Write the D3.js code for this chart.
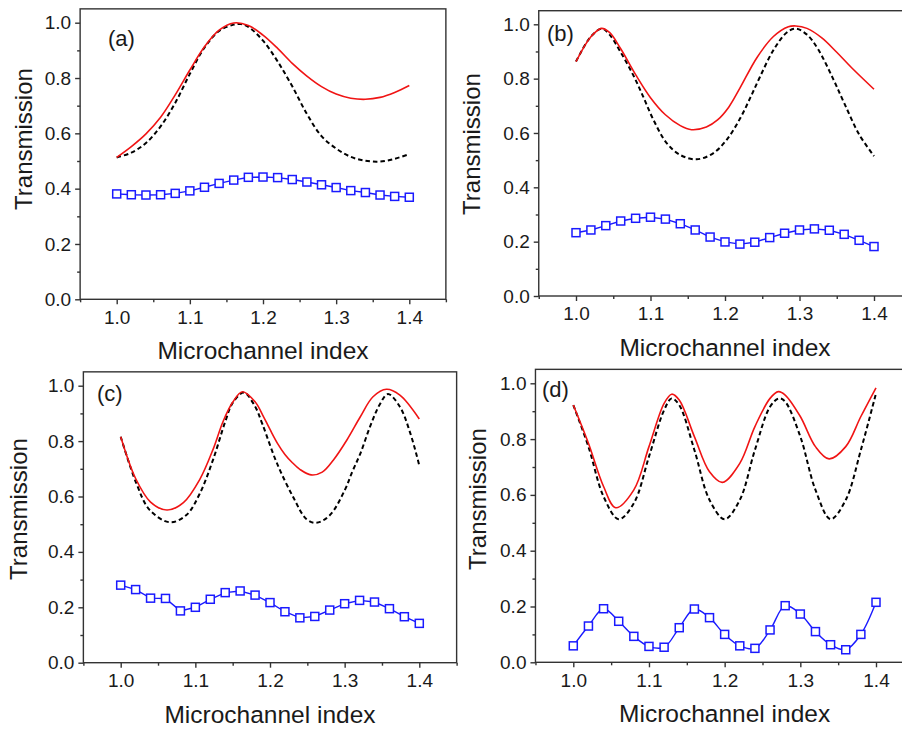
<!DOCTYPE html>
<html>
<head>
<meta charset="utf-8">
<script src="https://cdn.jsdelivr.net/npm/d3@7"></script>
<style>
  html, body { margin: 0; padding: 0; background: #fff; }
  svg { display: block; }
  text { font-family: "Liberation Sans", Arial, sans-serif; fill: #1a1a1a; }
</style>
</head>
<body>
<svg id="chart" width="902" height="729"></svg>
<script>
// ---------------- data ----------------
const panelNames = ["(a)", "(b)", "(c)", "(d)"];
const xTickValues = [1.0, 1.1, 1.2, 1.3, 1.4];
const xMinorValues = [0.95, 1.05, 1.15, 1.25, 1.35, 1.45];
const yTickValues = [0.0, 0.2, 0.4, 0.6, 0.8, 1.0];
const yMinorValues = [0.1, 0.3, 0.5, 0.7, 0.9];
const xTitle = "Microchannel index";
const yTitle = "Transmission";

const markerX = [1.00, 1.02, 1.04, 1.06, 1.08, 1.10, 1.12, 1.14, 1.16, 1.18, 1.20,
                 1.22, 1.24, 1.26, 1.28, 1.30, 1.32, 1.34, 1.36, 1.38, 1.40];

// panel (a)
const blueA = [0.381, 0.378, 0.377, 0.378, 0.383, 0.392, 0.405, 0.419, 0.431, 0.441, 0.442,
               0.440, 0.433, 0.424, 0.414, 0.404, 0.393, 0.386, 0.377, 0.372, 0.369];
const redA = [[1.00,0.513],[1.02,0.552],[1.04,0.598],[1.06,0.658],[1.08,0.739],[1.10,0.829],
              [1.12,0.913],[1.14,0.973],[1.16,0.999],[1.18,0.99],[1.20,0.955],[1.22,0.907],
              [1.24,0.853],[1.26,0.807],[1.28,0.769],[1.30,0.742],[1.32,0.727],[1.34,0.723],
              [1.36,0.730],[1.38,0.748],[1.40,0.773]];
const blackA = [[1.00,0.513],[1.02,0.530],[1.04,0.565],[1.06,0.625],[1.08,0.710],[1.10,0.815],
                [1.12,0.910],[1.14,0.970],[1.16,0.993],[1.17,0.995],[1.18,0.985],[1.20,0.935],
                [1.22,0.860],[1.24,0.770],[1.26,0.670],[1.28,0.590],[1.30,0.545],[1.32,0.515],
                [1.34,0.501],[1.36,0.498],[1.38,0.508],[1.40,0.525]];

// panel (b)
const blueB = [0.233, 0.243, 0.259, 0.276, 0.286, 0.290, 0.283, 0.266, 0.243, 0.217, 0.199,
               0.191, 0.198, 0.215, 0.231, 0.243, 0.247, 0.242, 0.227, 0.205, 0.182];
const redB = [[1.00,0.863],[1.02,0.954],[1.034,0.985],[1.045,0.970],[1.06,0.910],[1.08,0.815],
              [1.10,0.730],[1.12,0.667],[1.14,0.627],[1.155,0.612],[1.175,0.622],[1.19,0.648],
              [1.205,0.695],[1.22,0.765],[1.243,0.878],[1.265,0.955],[1.285,0.991],[1.295,0.994],
              [1.31,0.985],[1.33,0.950],[1.35,0.897],[1.37,0.840],[1.40,0.761]];
const blackB = [[1.00,0.863],[1.02,0.955],[1.035,0.984],[1.045,0.962],[1.059,0.902],[1.077,0.812],
                [1.090,0.735],[1.104,0.648],[1.122,0.562],[1.140,0.519],[1.162,0.503],[1.184,0.525],
                [1.202,0.574],[1.220,0.652],[1.234,0.730],[1.247,0.807],[1.265,0.905],[1.283,0.970],
                [1.295,0.984],[1.31,0.962],[1.325,0.908],[1.345,0.800],[1.36,0.710],[1.38,0.595],
                [1.40,0.515]];

// panel (c)
const blueC = [0.280, 0.264, 0.233, 0.232, 0.187, 0.200, 0.229, 0.253, 0.259, 0.244, 0.217,
               0.184, 0.162, 0.167, 0.190, 0.213, 0.225, 0.219, 0.195, 0.166, 0.142];
const redC = [[1.00,0.816],[1.02,0.665],[1.04,0.580],[1.062,0.551],[1.084,0.578],[1.106,0.662],
              [1.124,0.772],[1.137,0.870],[1.15,0.940],[1.163,0.978],[1.18,0.942],[1.19,0.895],
              [1.20,0.842],[1.21,0.792],[1.22,0.752],[1.23,0.722],[1.24,0.698],[1.255,0.678],
              [1.27,0.688],[1.285,0.732],[1.303,0.804],[1.321,0.888],[1.338,0.960],[1.356,0.987],
              [1.374,0.966],[1.40,0.880]];
const blackC = [[1.00,0.816],[1.021,0.647],[1.039,0.551],[1.066,0.507],[1.088,0.533],[1.106,0.611],
                [1.124,0.735],[1.14,0.870],[1.15,0.938],[1.165,0.975],[1.18,0.925],[1.19,0.860],
                [1.209,0.722],[1.231,0.598],[1.249,0.518],[1.262,0.505],[1.28,0.532],[1.30,0.622],
                [1.31,0.688],[1.321,0.755],[1.334,0.852],[1.347,0.932],[1.358,0.970],[1.374,0.924],
                [1.388,0.828],[1.40,0.712]];

// panel (d)
const blueD = [0.059, 0.130, 0.192, 0.147, 0.093, 0.057, 0.054, 0.124, 0.191, 0.160, 0.100,
               0.059, 0.050, 0.116, 0.203, 0.173, 0.110, 0.063, 0.045, 0.100, 0.215];
const redD = [[1.00,0.922],[1.02,0.785],[1.04,0.630],[1.056,0.554],[1.08,0.618],[1.10,0.773],
              [1.12,0.928],[1.13,0.961],[1.14,0.940],[1.16,0.809],[1.18,0.683],[1.197,0.645],
              [1.22,0.713],[1.24,0.845],[1.26,0.946],[1.271,0.970],[1.28,0.958],[1.30,0.881],
              [1.32,0.773],[1.338,0.729],[1.36,0.773],[1.38,0.881],[1.40,0.984]];
const blackD = [[1.00,0.922],[1.02,0.773],[1.04,0.594],[1.06,0.513],[1.08,0.570],[1.10,0.737],
                [1.12,0.904],[1.13,0.946],[1.14,0.922],[1.16,0.761],[1.18,0.582],[1.20,0.513],
                [1.22,0.582],[1.24,0.761],[1.26,0.916],[1.272,0.946],[1.28,0.934],[1.30,0.809],
                [1.32,0.618],[1.34,0.513],[1.36,0.582],[1.38,0.761],[1.40,0.964]];

const blueSeries = [blueA, blueB, blueC, blueD];
const redSeries = [redA, redB, redC, redD];
const blackSeries = [blackA, blackB, blackC, blackD];

// ---------------- layout (pixel geometry per panel) ----------------
const layout = [
  { x1: 116.7, x14: 409.3, y0: 299.3, y1: 22.7, lab: [108, 45.5], ytx: 32,  yty: 139, smooth: false },
  { x1: 576.0, x14: 874.0, y0: 296.0, y1: 24.3, lab: [547, 41],   ytx: 480, yty: 144, smooth: false },
  { x1: 120.7, x14: 419.3, y0: 662.7, y1: 385.7, lab: [97, 401],  ytx: 27,  yty: 509, smooth: false },
  { x1: 573.3, x14: 876.0, y0: 662.3, y1: 383.3, lab: [542, 397], ytx: 486, yty: 499, smooth: true }
];

const svg = d3.select("#chart");
const axisColor = "#333";

layout.forEach((L, i) => {
  const x = d3.scaleLinear().domain([1.0, 1.4]).range([L.x1, L.x14]);
  const y = d3.scaleLinear().domain([0, 1.0]).range([L.y0, L.y1]);
  const g = svg.append("g");

  const xl = x(0.95), xr = x(1.45), yb = y(0), yt = y(1.05);

  g.append("rect")
    .attr("x", xl).attr("y", yt).attr("width", xr - xl).attr("height", yb - yt)
    .attr("fill", "none").attr("stroke", axisColor).attr("stroke-width", 1.4);

  const xa = g.append("g").attr("transform", `translate(0,${yb})`)
    .call(d3.axisBottom(x).tickValues(xTickValues).tickSize(5).tickSizeOuter(0).tickPadding(6)
      .tickFormat(d3.format(".1f")));
  const xm = g.append("g").attr("transform", `translate(0,${yb})`)
    .call(d3.axisBottom(x).tickValues(xMinorValues).tickSize(3).tickSizeOuter(0).tickFormat(""));
  const ya = g.append("g").attr("transform", `translate(${xl},0)`)
    .call(d3.axisLeft(y).tickValues(yTickValues).tickSize(5).tickSizeOuter(0).tickPadding(4)
      .tickFormat(d3.format(".1f")));
  const ym = g.append("g").attr("transform", `translate(${xl},0)`)
    .call(d3.axisLeft(y).tickValues(yMinorValues).tickSize(3).tickSizeOuter(0).tickFormat(""));
  [xa, xm, ya, ym].forEach(a => {
    a.select(".domain").remove();
    a.selectAll("line").attr("stroke", axisColor).attr("stroke-width", 1.4);
    a.selectAll("text").attr("font-size", 19).attr("fill", "#1a1a1a")
      .attr("font-family", '"Liberation Sans", Arial, sans-serif');
  });

  g.append("text").attr("x", (xl + xr) / 2).attr("y", yb + 60)
    .attr("text-anchor", "middle").attr("font-size", 24.5).text(xTitle);
  g.append("text").attr("transform", `translate(${L.ytx},${L.yty}) rotate(-90)`)
    .attr("text-anchor", "middle").attr("font-size", 24).text(yTitle);

  g.append("text").attr("x", L.lab[0]).attr("y", L.lab[1])
    .attr("font-size", 22).text(panelNames[i]);

  const lineGen = d3.line().x(d => x(d[0])).y(d => y(d[1])).curve(d3.curveCatmullRom.alpha(0.5));

  g.append("path").datum(blackSeries[i]).attr("d", lineGen)
    .attr("fill", "none").attr("stroke", "#000").attr("stroke-width", 2)
    .attr("stroke-dasharray", "4.5,3");
  g.append("path").datum(redSeries[i]).attr("d", lineGen)
    .attr("fill", "none").attr("stroke", "#f01414").attr("stroke-width", 1.6);

  const bluePts = markerX.map((v, k) => [v, blueSeries[i][k]]);
  const blueLine = d3.line().x(d => x(d[0])).y(d => y(d[1]))
    .curve(L.smooth ? d3.curveCatmullRom.alpha(0.5) : d3.curveLinear);
  g.append("path").datum(bluePts).attr("d", blueLine)
    .attr("fill", "none").attr("stroke", "#1a1aff").attr("stroke-width", 1.4);
  g.selectAll(".sq").data(bluePts).enter().append("rect")
    .attr("x", d => x(d[0]) - 4).attr("y", d => y(d[1]) - 4)
    .attr("width", 8).attr("height", 8)
    .attr("fill", "#fff").attr("stroke", "#1a1aff").attr("stroke-width", 1.5);
});
</script>
</body>
</html>
